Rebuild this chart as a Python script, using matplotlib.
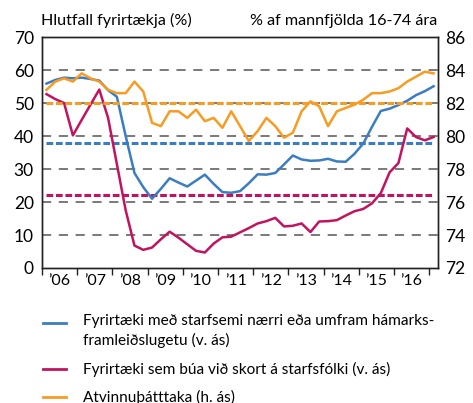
import matplotlib
matplotlib.use("Agg")
import matplotlib.pyplot as plt
from matplotlib.lines import Line2D
import numpy as np

plt.rcParams["font.family"] = ["Lato", "DejaVu Sans"]

# quarterly data, 2006Q1 - 2017Q1
capacity = [55.9, 57.0, 57.7, 57.5, 57.7, 57.3, 56.8, 53.9, 51.9, 40.0,
            28.8, 24.5, 21.0, 24.0, 27.2, 25.9, 24.7, 26.5, 28.3, 25.5,
            23.0, 22.8, 23.3, 25.7, 28.4, 28.3, 28.8, 31.4, 34.1, 32.9,
            32.5, 32.6, 33.1, 32.3, 32.2, 34.6, 37.7, 42.8, 47.6, 48.3,
            49.4, 50.7, 52.4, 53.6, 55.1]
shortage = [52.7, 51.2, 50.0, 40.2, 44.9, 49.5, 54.1, 45.5, 31.5, 17.5,
            6.8, 5.5, 6.2, 8.7, 11.0, 9.2, 7.2, 5.2, 4.7, 7.4,
            9.3, 9.5, 10.8, 12.1, 13.5, 14.2, 15.2, 12.6, 12.8, 13.5,
            10.9, 14.1, 14.2, 14.5, 15.9, 17.2, 17.9, 19.6, 22.7, 29.0,
            31.8, 42.3, 39.7, 38.7, 39.7]
participation = [82.8, 83.3, 83.5, 83.3, 83.8, 83.5, 83.3, 82.8, 82.6, 82.6,
                 83.3, 82.7, 80.8, 80.6, 81.5, 81.5, 81.1, 81.6, 80.9, 81.1,
                 80.5, 81.5, 80.6, 79.7, 80.3, 81.1, 80.6, 79.9, 80.2, 81.5,
                 82.1, 81.8, 80.6, 81.5, 81.7, 81.9, 82.2, 82.6, 82.6, 82.7,
                 82.9, 83.3, 83.6, 83.9, 83.8]
avg_capacity = 38.0
avg_shortage = 22.2
avg_participation = 82.0

years = list(range(2006, 2017))
year_labels = ["’06", "’07", "’08", "’09", "’10", "’11", "’12", "’13", "’14", "’15", "’16"]
legend_labels = ["Fyrirtæki með starfsemi nærri eða umfram hámarks-\nframleiðslugetu (v. ás)",
                 "Fyrirtæki sem búa við skort á starfsfólki (v. ás)",
                 "Atvinnuþátttaka (h. ás)"]

BLUE = "#3b7dc2"
RED = "#c2135f"
ORANGE = "#f89b22"
GRID = "#555555"

x = 2006 + (np.arange(len(capacity)) + 0.5) / 4

fig = plt.figure(figsize=(4.73, 4.03), dpi=100)
ax = fig.add_axes([0.089, 0.335, 0.837, 0.573])
ax2 = ax.twinx()

# grid
for v in range(10, 70, 10):
    ax.axhline(v, color=GRID, lw=1.1, ls=(0, (6, 5)), zorder=1)

# averages (dashed) and series
ax.hlines(avg_capacity, x[0], x[-1], color=BLUE, lw=2.2, ls=(0, (2.2, 0.9)), zorder=2)
ax.hlines(avg_shortage, x[0], x[-1], color=RED, lw=2.2, ls=(0, (2.2, 0.9)), zorder=2)
ax.plot(x, capacity, color=BLUE, lw=1.8, zorder=3)
ax.plot(x, shortage, color=RED, lw=1.8, zorder=3)

ax2.hlines(avg_participation, x[0], x[-1], color=ORANGE, lw=2.2, ls=(0, (2.2, 0.9)), zorder=2)
ax2.plot(x, participation, color=ORANGE, lw=1.8, zorder=3)

ax.set_xlim(2006, 2017.25)
ax.set_ylim(0, 70)
ax2.set_ylim(72, 86)
ax.set_yticks(range(0, 71, 10))
ax2.set_yticks(range(72, 87, 2))

ax.set_xticks(range(2006, 2018))
ax.set_xticklabels([])
ax.set_xticks([y + 0.5 for y in years], minor=True)
ax.set_xticklabels(year_labels, minor=True)
ax.tick_params(axis="x", which="major", length=5, width=1, color="#222222")
ax.tick_params(axis="x", which="minor", length=0, labelsize=11.5, pad=4)
ax.tick_params(axis="y", length=0, labelsize=12.5, pad=6)
ax2.tick_params(axis="y", length=0, labelsize=12.5, pad=5)

for a in (ax, ax2):
    for s in a.spines.values():
        s.set_linewidth(1.0)
        s.set_color("#222222")

fig.text(0.087, 0.948, "Hlutfall fyrirtækja (%)", fontsize=11.6, va="center", ha="left")
fig.text(0.925, 0.948, "% af mannfjölda 16-74 ára", fontsize=11.6, va="center", ha="right")

# legend, drawn by hand below the axes
colors = [BLUE, RED, ORANGE]
ys = [323, 369, 397]
for lab, c, yy in zip(legend_labels, colors, ys):
    yf = 1 - yy / 403
    fig.add_artist(Line2D([43 / 473, 66 / 473], [yf, yf], color=c, lw=2.0))
    if "\n" in lab:
        fig.text(83 / 473, yf + 9 / 403, lab, fontsize=11.1, va="top", ha="left", linespacing=1.45)
    else:
        fig.text(83 / 473, yf, lab, fontsize=11.1, va="center", ha="left")

fig.savefig("out.png", dpi=100)
